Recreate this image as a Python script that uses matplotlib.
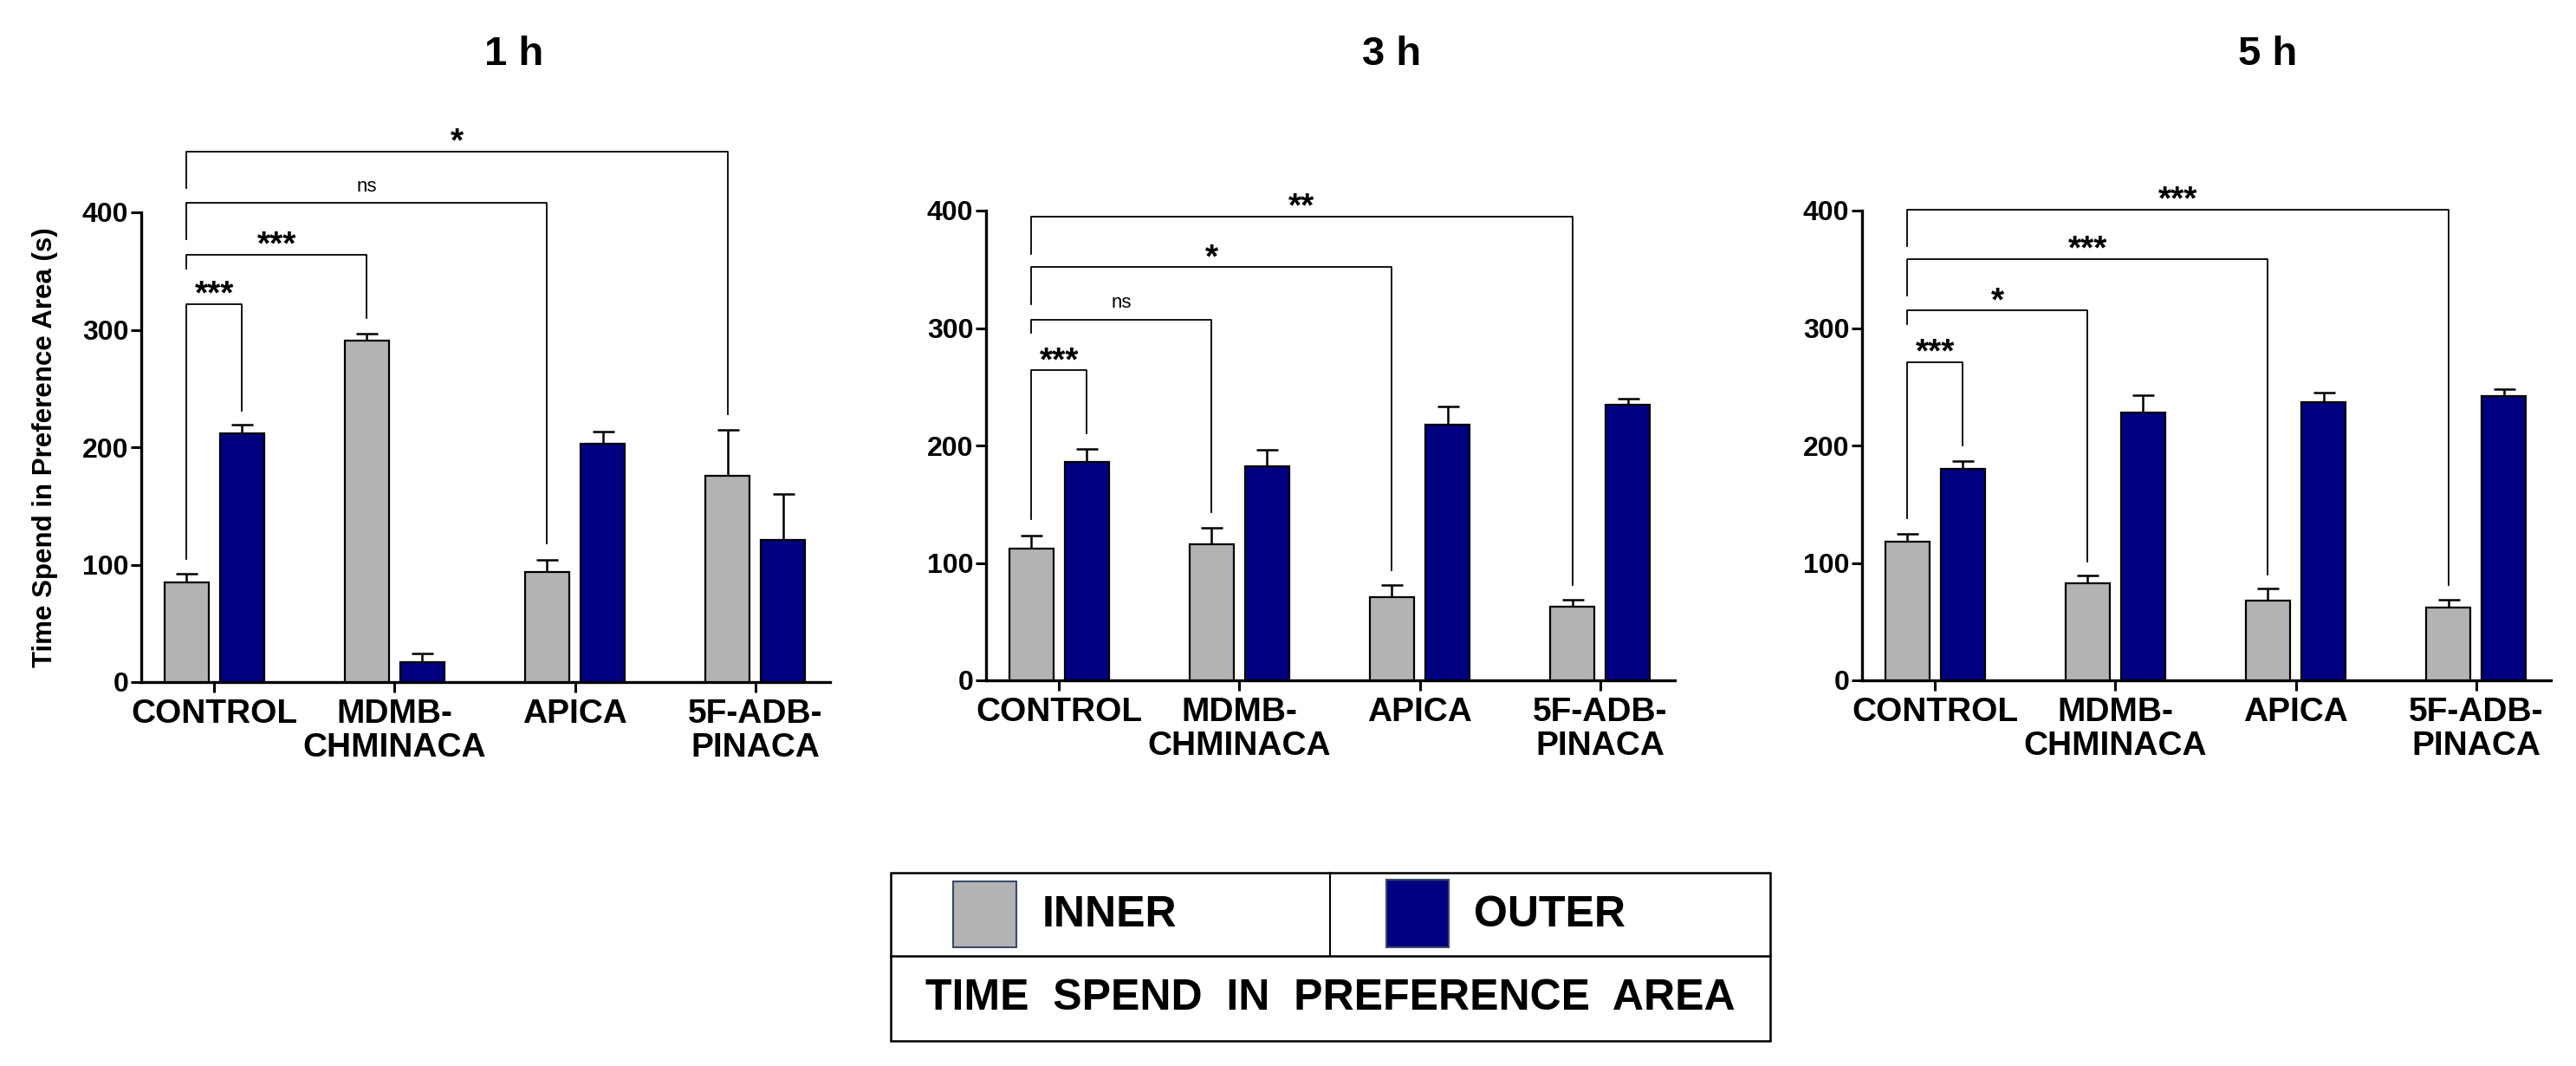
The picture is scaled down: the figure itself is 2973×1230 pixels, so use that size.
import matplotlib

matplotlib.use("Agg")
import matplotlib.pyplot as plt
from matplotlib.patches import Rectangle
import numpy as np

plt.rcParams['font.family'] = ['Liberation Sans', 'DejaVu Sans']

W, H = 2973, 1230

categories = ["CONTROL", "MDMB-\nCHMINACA", "APICA", "5F-ADB-\nPINACA"]
time_points = ["1 h", "3 h", "5 h"]

# mean and SEM (upper bar only)
inner_1h = [85, 291, 94, 176]
inner_1h_err = [7, 6, 10, 39]
outer_1h = [212, 17, 203, 121]
outer_1h_err = [7, 7, 10, 39]

inner_3h = [112, 116, 71, 63]
inner_3h_err = [11, 14, 10, 6]
outer_3h = [186, 182, 218, 235]
outer_3h_err = [11, 14, 15, 5]

inner_5h = [118, 83, 68, 62]
inner_5h_err = [7, 6, 10, 7]
outer_5h = [180, 228, 237, 242]
outer_5h_err = [7, 15, 8, 6]

# brackets: (target group, target series, top, left leg end, right leg end, label)
sig_1h = [(0, "outer", 322, 105, 231, "***"),
          (1, "inner", 364, 352, 310, "***"),
          (2, "inner", 408, 377, 118, "ns"),
          (3, "inner", 452, 421, 228, "*")]
sig_3h = [(0, "outer", 264, 137, 210, "***"),
          (1, "inner", 307, 296, 143, "ns"),
          (2, "inner", 352, 320, 94, "*"),
          (3, "inner", 395, 363, 81, "**")]
sig_5h = [(0, "outer", 271, 138, 200, "***"),
          (1, "inner", 315, 303, 101, "*"),
          (2, "inner", 359, 328, 90, "***"),
          (3, "inner", 401, 370, 81, "***")]

panels = [
    (inner_1h, inner_1h_err, outer_1h, outer_1h_err, sig_1h),
    (inner_3h, inner_3h_err, outer_3h, outer_3h_err, sig_3h),
    (inner_5h, inner_5h_err, outer_5h, outer_5h_err, sig_5h),
]

# axes placement in pixels: left spine x, y of zero line, y of 400
axes_px = [(163, 787, 245), (1138, 785, 243), (2149, 785, 243)]
axes_w_px = 795
title_x_px = [593, 1606, 2617]

GRAY = "#B3B3B3"
NAVY = "#000080"
OFF = 0.154
BW = 0.245

fig = plt.figure(figsize=(W / 100, H / 100), dpi=100)

for i, (inn, inn_e, out, out_e, sigs) in enumerate(panels):
    x0, y0, y4 = axes_px[i]
    ax = fig.add_axes([x0 / W, (H - y0) / H, axes_w_px / W, (y0 - y4) / H])
    x = np.arange(len(categories))

    ax.bar(x - OFF, inn, BW, color=GRAY, edgecolor="black", linewidth=1.6, zorder=3)
    ax.bar(x + OFF, out, BW, color=NAVY, edgecolor="black", linewidth=1.6, zorder=3)
    ax.errorbar(x - OFF, inn, yerr=[np.zeros(4), inn_e], fmt="none", ecolor="black",
                elinewidth=1.8, capsize=9, capthick=1.8, zorder=2)
    ax.errorbar(x + OFF, out, yerr=[np.zeros(4), out_e], fmt="none", ecolor="black",
                elinewidth=1.8, capsize=9, capthick=1.8, zorder=2)

    ax.set_xlim(-0.405, 3.415)
    ax.set_ylim(0, 400)
    ax.set_yticks([0, 100, 200, 300, 400])
    ax.set_xticks(x)
    ax.set_xticklabels(categories, fontsize=28, fontweight="bold", linespacing=1.1)
    for lab in ax.get_yticklabels():
        lab.set_fontsize(23)
        lab.set_fontweight("bold")
    ax.tick_params(axis="both", length=8.5, width=2.2, direction="out")
    ax.tick_params(axis="x", pad=5)
    ax.tick_params(axis="y", pad=2)
    for s in ["top", "right"]:
        ax.spines[s].set_visible(False)
    for s in ["left", "bottom"]:
        ax.spines[s].set_linewidth(2.4)
    ax.set_facecolor("none")

    # significance brackets
    for g, series, top, lb, rb, label in sigs:
        xl = -OFF
        xr = g + OFF if series == "outer" else g - OFF
        ax.plot([xl, xl, xr, xr], [lb, top, top, rb], color="black", lw=1.3,
                clip_on=False, zorder=4)
        if label == "ns":
            ax.text((xl + xr) / 2, top + 10, label, ha="center", va="baseline",
                    fontsize=16, clip_on=False)
        else:
            ax.text((xl + xr) / 2, top, label, ha="center", va="baseline",
                    fontsize=28, fontweight="bold", clip_on=False)

    if i == 0:
        ax.set_ylabel("Time Spend in Preference Area (s)", fontsize=22.5,
                      fontweight="bold", labelpad=20)

    fig.text(title_x_px[i] / W, 1 - 63 / H, time_points[i], ha="center", va="center",
             fontsize=34, fontweight="bold")

# legend box drawn in pixel coordinates
leg = fig.add_axes([0, 0, 1, 1])
leg.set_xlim(0, W)
leg.set_ylim(H, 0)
leg.axis("off")
leg.add_patch(Rectangle((1028, 1007), 1015, 194, fill=False, edgecolor="black", lw=1.8))
leg.plot([1028, 2043], [1103, 1103], color="black", lw=1.8)
leg.plot([1535, 1535], [1007, 1103], color="black", lw=1.5)
leg.add_patch(Rectangle((1100, 1017), 73, 76, facecolor=GRAY, edgecolor="#3a4a6a", lw=1.5))
leg.add_patch(Rectangle((1600, 1015), 72, 78, facecolor=NAVY, edgecolor="#3a4a6a", lw=1.5))
leg.text(1203, 1056, "INNER", ha="left", va="center", fontsize=36, fontweight="bold")
leg.text(1701, 1056, "OUTER", ha="left", va="center", fontsize=36, fontweight="bold")
leg.text(1535, 1152, "TIME  SPEND  IN  PREFERENCE  AREA", ha="center", va="center",
         fontsize=36, fontweight="bold")

fig.savefig("out.png", dpi=100, facecolor="white")
